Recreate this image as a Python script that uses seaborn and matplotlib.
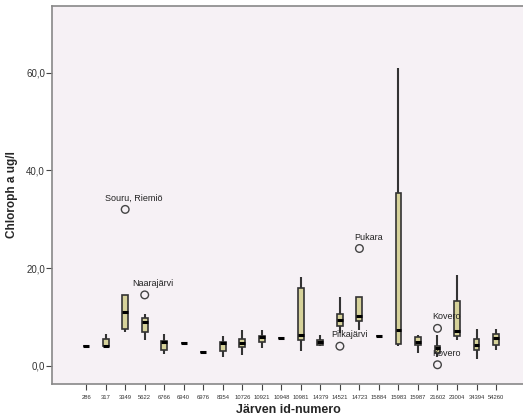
import pandas as pd
import seaborn as sns
import matplotlib.pyplot as plt
import numpy as np

# Lake ids and box statistics (Chloroph a ug/l)
ids = ['286', '317', '3349', '5622', '6766', '6940', '6976', '8354', '10726', '10921', '10948',
       '10981', '14379', '14521', '14723', '15884', '15983', '15987', '21602', '23004', '34394', '54260']
low = [4.0, 3.95, 6.9, 5.3, 2.4, 4.7, 2.9, 1.8, 2.2, 3.55, 5.65,
       3.05, 3.95, 6.7, 7.4, 6.15, 4.1, 2.7, 1.7, 5.2, 1.45, 3.15]
q1 = [4.0, 3.95, 7.6, 6.9, 3.2, 4.7, 2.9, 2.95, 3.75, 4.85, 5.65,
      5.3, 4.25, 8.05, 9.1, 6.15, 4.45, 4.15, 2.6, 6.0, 3.2, 4.25]
med = [4.0, 4.1, 10.9, 8.95, 4.8, 4.7, 2.9, 4.6, 4.6, 5.95, 5.65,
       6.3, 4.8, 9.35, 10.1, 6.15, 7.4, 4.85, 3.55, 7.15, 4.15, 5.65]
q3 = [4.0, 5.5, 14.5, 9.8, 5.05, 4.7, 2.9, 4.85, 5.45, 6.15, 5.65,
      16.0, 5.3, 10.6, 14.0, 6.15, 35.4, 5.9, 4.1, 13.2, 5.45, 6.5]
high = [4.0, 6.5, 14.5, 10.65, 6.5, 4.7, 2.9, 6.15, 7.25, 7.4, 5.65,
        18.1, 6.3, 14.1, 14.0, 6.15, 61.0, 6.3, 6.2, 18.65, 7.6, 7.5]

# Outliers with their lake names
out_ids = ['3349', '5622', '14521', '14723', '21602', '21602']
out_vals = [32.0, 14.5, 4.0, 24.0, 7.65, 0.2]
out_names = ['Souru, Riemiö', 'Naarajärvi', 'Piikajärvi', 'Pukara', 'Kovero', 'Kovero']
out_dx = [-20, -12, -9, -5, -5, -5]  # label offsets in px

# Five values per lake reproduce the box statistics
rows = []
for i, lake in enumerate(ids):
    for v in (low[i], q1[i], med[i], q3[i], high[i]):
        rows.append({'lake': lake, 'chl': v})
df = pd.DataFrame(rows)
df_out = pd.DataFrame({'lake': out_ids, 'chl': out_vals})

sns.set_style('white')
plt.rcParams['font.family'] = ['Liberation Sans', 'DejaVu Sans']

fig = plt.figure(figsize=(5.23, 4.19), dpi=100)
ax = fig.add_axes([52 / 523, 1 - 384.3 / 419, 0.905, (384.3 - 5.7) / 419])
ax.set_facecolor('#f6f1f5')

sns.boxplot(data=df, x='lake', y='chl', order=ids, width=0.3, showfliers=False,
            color='#d6d29a', saturation=1, linecolor='#333333', linewidth=1.2,
            whiskerprops={'linewidth': 1.5}, capprops={'linewidth': 0},
            medianprops={'color': 'black', 'linewidth': 2.2}, ax=ax)

sns.stripplot(data=df_out, x='lake', y='chl', order=ids, jitter=False, size=5.5,
              facecolor='none', edgecolor='#444444', linewidth=1.0, ax=ax)

for lake, v, name, dx in zip(out_ids, out_vals, out_names, out_dx):
    ax.annotate(name, (ids.index(lake), v), xytext=(dx * 0.72, 5), textcoords='offset points',
                ha='left', va='bottom', fontsize=6.5, color='#222222')

ax.set_xlim(-1.75, 22.5)
ax.set_ylim(-3.8, 73.7)
ax.set_yticks([0, 20, 40, 60])
ax.set_yticklabels(['0,0', '20,0', '40,0', '60,0'])
ax.tick_params(axis='y', labelsize=7, colors='#444444', length=4, width=0.8, pad=1,
               direction='out', left=True)
ax.tick_params(axis='x', labelsize=4.2, colors='#444444', length=4, width=0.8, direction='out', bottom=True)
for lbl in ax.get_xticklabels() + ax.get_yticklabels():
    lbl.set_color('#333333')

for side in ['left', 'bottom', 'top']:
    ax.spines[side].set_color('#888888')
    ax.spines[side].set_linewidth(1.2)
ax.spines['right'].set_visible(False)

ax.set_xlabel('Järven id-numero', fontsize=9, fontweight='bold', labelpad=3)
ax.set_ylabel('Chloroph a ug/l', fontsize=8.5, fontweight='bold', labelpad=6)

fig.savefig('out.png', dpi=100)
